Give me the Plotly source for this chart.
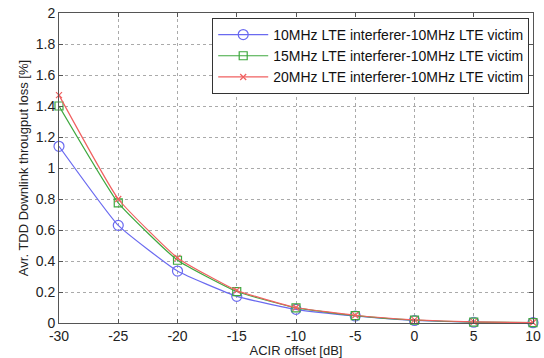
import plotly.graph_objects as go

acir = [-30, -25, -20, -15, -10, -5, 0, 5, 10]
loss_10 = [1.14, 0.63, 0.335, 0.172, 0.088, 0.045, 0.016, 0.005, 0.002]
loss_15 = [1.40, 0.775, 0.405, 0.203, 0.097, 0.048, 0.018, 0.006, 0.002]
loss_20 = [1.47, 0.80, 0.42, 0.21, 0.10, 0.05, 0.02, 0.007, 0.003]
names = ["10MHz LTE interferer-10MHz LTE victim",
         "15MHz LTE interferer-10MHz LTE victim",
         "20MHz LTE interferer-10MHz LTE victim"]
xticks = [-30, -25, -20, -15, -10, -5, 0, 5, 10]
yticks = [0, 0.2, 0.4, 0.6, 0.8, 1, 1.2, 1.4, 1.6, 1.8, 2]

FONT = "Liberation Sans, Arial"
fig = go.Figure()
styles = [("#6a6af0", "circle-open", 10), ("#3fa83f", "square-open", 8), ("#f06060", "x-thin-open", 6)]
for y, n, (c, s, ms) in zip([loss_10, loss_15, loss_20], names, styles):
    fig.add_trace(go.Scatter(x=acir, y=y, name=n, mode="lines+markers", cliponaxis=False,
                             line=dict(color=c, width=1.2, shape="spline", smoothing=0.4),
                             marker=dict(symbol=s, size=ms, color=c, line=dict(width=1.2, color=c))))

axis_common = dict(showline=True, mirror="ticks", linecolor="#555", linewidth=1,
                   ticks="inside", ticklen=4, tickcolor="#555", automargin=False,
                   showgrid=True, gridcolor="#aaa", griddash="dot", gridwidth=1,
                   zeroline=False, tickfont=dict(family=FONT, size=14, color="#222"))
fig.update_xaxes(range=[-30, 10], tickvals=xticks, ticktext=[str(v) for v in xticks],
                 title=dict(text="ACIR offset [dB]", font=dict(family=FONT, size=13, color="#222"), standoff=1),
                 **axis_common)
fig.update_yaxes(range=[0, 2], tickvals=yticks, ticktext=[("%g" % v) for v in yticks],
                 title=dict(text="Avr. TDD Downlink througput loss [%]", font=dict(family=FONT, size=13, color="#222"), standoff=4),
                 **axis_common)
fig.update_layout(width=544, height=358, margin=dict(l=59, r=11, t=13, b=35, autoexpand=False),
                  paper_bgcolor="white", plot_bgcolor="white",
                  legend=dict(x=0.992, y=0.984, xanchor="right", yanchor="top",
                              bgcolor="white", bordercolor="#333", borderwidth=1,
                              font=dict(family=FONT, size=14, color="#111"),
                              tracegroupgap=0, itemwidth=50))
fig.write_html("out.html")
